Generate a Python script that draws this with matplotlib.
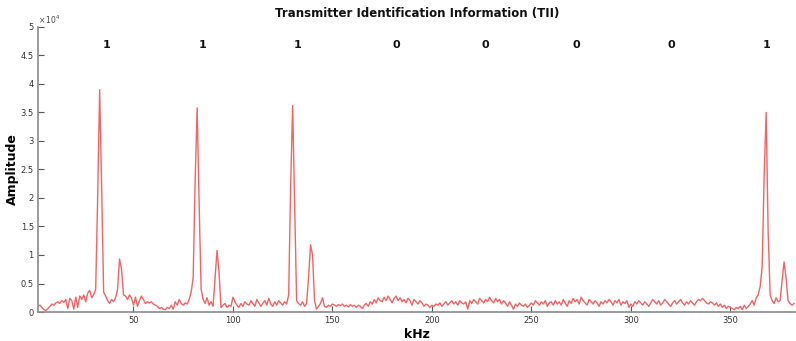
import numpy as np
import matplotlib
matplotlib.use("Agg")
import matplotlib.pyplot as plt
from matplotlib.ticker import FuncFormatter

# Amplitude (x 10^4), one sample per kHz starting at 2 kHz
amp = [
    0.10, 0.12, 0.08, 0.04, 0.03, 0.06, 0.10, 0.14, 0.12, 0.16,
    0.18, 0.15, 0.20, 0.17, 0.22, 0.06, 0.24, 0.20, 0.05, 0.26,
    0.08, 0.28, 0.22, 0.30, 0.18, 0.33, 0.38, 0.25, 0.30, 0.40,
    2.00, 3.90, 2.20, 0.35, 0.28, 0.20, 0.15, 0.22, 0.18, 0.25,
    0.40, 0.93, 0.75, 0.30, 0.28, 0.22, 0.30, 0.25, 0.12, 0.26,
    0.10, 0.20, 0.28, 0.22, 0.15, 0.18, 0.16, 0.18, 0.14, 0.12,
    0.10, 0.06, 0.08, 0.05, 0.04, 0.08, 0.06, 0.12, 0.05, 0.18,
    0.12, 0.22, 0.15, 0.12, 0.16, 0.14, 0.22, 0.35, 0.60, 2.30,
    3.58, 1.90, 0.40, 0.22, 0.15, 0.25, 0.12, 0.18, 0.10, 0.60,
    1.08, 0.70, 0.08, 0.12, 0.15, 0.08, 0.12, 0.10, 0.26, 0.18,
    0.12, 0.08, 0.15, 0.10, 0.18, 0.14, 0.12, 0.20, 0.15, 0.10,
    0.22, 0.16, 0.10, 0.15, 0.20, 0.12, 0.24, 0.14, 0.10, 0.18,
    0.12, 0.20, 0.16, 0.12, 0.18, 0.14, 0.30, 2.20, 3.62, 1.90,
    0.20, 0.15, 0.12, 0.18, 0.10, 0.15, 0.60, 1.18, 1.00, 0.20,
    0.05, 0.10, 0.15, 0.25, 0.10, 0.08, 0.12, 0.10, 0.14, 0.12,
    0.10, 0.13, 0.11, 0.14, 0.10, 0.12, 0.09, 0.13, 0.10, 0.12,
    0.08, 0.12, 0.10, 0.06, 0.12, 0.15, 0.10, 0.18, 0.14, 0.22,
    0.16, 0.25, 0.20, 0.18, 0.26, 0.20, 0.28, 0.22, 0.16, 0.24,
    0.28, 0.20, 0.25, 0.18, 0.22, 0.16, 0.24, 0.20, 0.12, 0.22,
    0.18, 0.14, 0.20, 0.16, 0.10, 0.14, 0.12, 0.08, 0.12, 0.10,
    0.14, 0.12, 0.16, 0.10, 0.14, 0.18, 0.12, 0.16, 0.20, 0.14,
    0.18, 0.12, 0.20, 0.16, 0.14, 0.18, 0.05, 0.20, 0.15, 0.22,
    0.18, 0.14, 0.24, 0.20, 0.16, 0.22, 0.18, 0.26, 0.20, 0.16,
    0.24, 0.18, 0.22, 0.14, 0.20, 0.16, 0.10, 0.18, 0.12, 0.05,
    0.14, 0.10, 0.16, 0.12, 0.10, 0.14, 0.08, 0.12, 0.16, 0.12,
    0.20, 0.16, 0.12, 0.18, 0.14, 0.20, 0.10, 0.16, 0.18, 0.12,
    0.20, 0.14, 0.18, 0.12, 0.22, 0.16, 0.10, 0.20, 0.15, 0.24,
    0.18, 0.22, 0.14, 0.26, 0.20, 0.16, 0.12, 0.22, 0.18, 0.14,
    0.20, 0.16, 0.10, 0.18, 0.14, 0.20, 0.16, 0.22, 0.18, 0.12,
    0.20, 0.16, 0.22, 0.12, 0.18, 0.15, 0.20, 0.08, 0.14, 0.10,
    0.18, 0.14, 0.20, 0.16, 0.12, 0.18, 0.14, 0.10, 0.16, 0.22,
    0.18, 0.14, 0.20, 0.12, 0.16, 0.22, 0.18, 0.14, 0.10, 0.16,
    0.20, 0.14, 0.18, 0.22, 0.16, 0.12, 0.18, 0.14, 0.20, 0.16,
    0.12, 0.18, 0.22, 0.20, 0.24, 0.20, 0.16, 0.14, 0.18, 0.16,
    0.12, 0.16, 0.10, 0.14, 0.08, 0.12, 0.06, 0.10, 0.08, 0.06,
    0.04, 0.08, 0.06, 0.10, 0.04, 0.12, 0.06, 0.10, 0.14, 0.20,
    0.12, 0.25, 0.30, 0.45, 0.80, 2.40, 3.50, 1.40, 0.30, 0.20,
    0.15, 0.25, 0.18, 0.20, 0.55, 0.88, 0.60, 0.20, 0.15, 0.12,
    0.15,
]
freq_start = 2

# TII bit labels
bits = ["1", "1", "1", "0", "0", "0", "0", "1"]
bit_pos = [36.5, 84.5, 132.5, 182, 227, 272.5, 320.5, 368]
bit_y = 4.68

x_ticks = [50, 100, 150, 200, 250, 300, 350]
y_ticks = [0, 0.5, 1, 1.5, 2, 2.5, 3, 3.5, 4, 4.5, 5]

freq = np.arange(freq_start, freq_start + len(amp))

fig = plt.figure(figsize=(7.96, 3.41), dpi=100)
ax = fig.add_axes([0.0477, 0.085, 0.9523, 0.836])
ax.plot(freq, amp, color="#f26464", lw=1.0)

ax.set_xlim(2, 383)
ax.set_ylim(0, 5)
ax.set_xticks(x_ticks)
ax.set_yticks(y_ticks)
ax.yaxis.set_major_formatter(FuncFormatter(lambda v, p: "%g" % v))

gray = "#8a8a8a"
for s in ["top", "right"]:
    ax.spines[s].set_visible(False)
for s in ["left", "bottom"]:
    ax.spines[s].set_color(gray)
    ax.spines[s].set_linewidth(1.2)
ax.tick_params(direction="in", length=4, width=0.8, color="#555555",
               labelsize=6, labelcolor="#333333", pad=3)

for b, xp in zip(bits, bit_pos):
    ax.text(xp, bit_y, b, ha="center", va="center", fontsize=8,
            fontweight="bold", color="#111111")

ax.set_title("Transmitter Identification Information (TII)", fontsize=8.5,
             fontweight="bold", pad=7, color="#111111")
ax.text(0.0, 1.005, r"$\times\,10^{4}$", transform=ax.transAxes,
        fontsize=5.5, color="#444444", ha="left", va="bottom")
ax.set_xlabel("kHz", fontsize=9, fontweight="bold", labelpad=2)
ax.set_ylabel("Amplitude", fontsize=9, fontweight="bold", labelpad=1)

fig.savefig("out.png", dpi=100)
